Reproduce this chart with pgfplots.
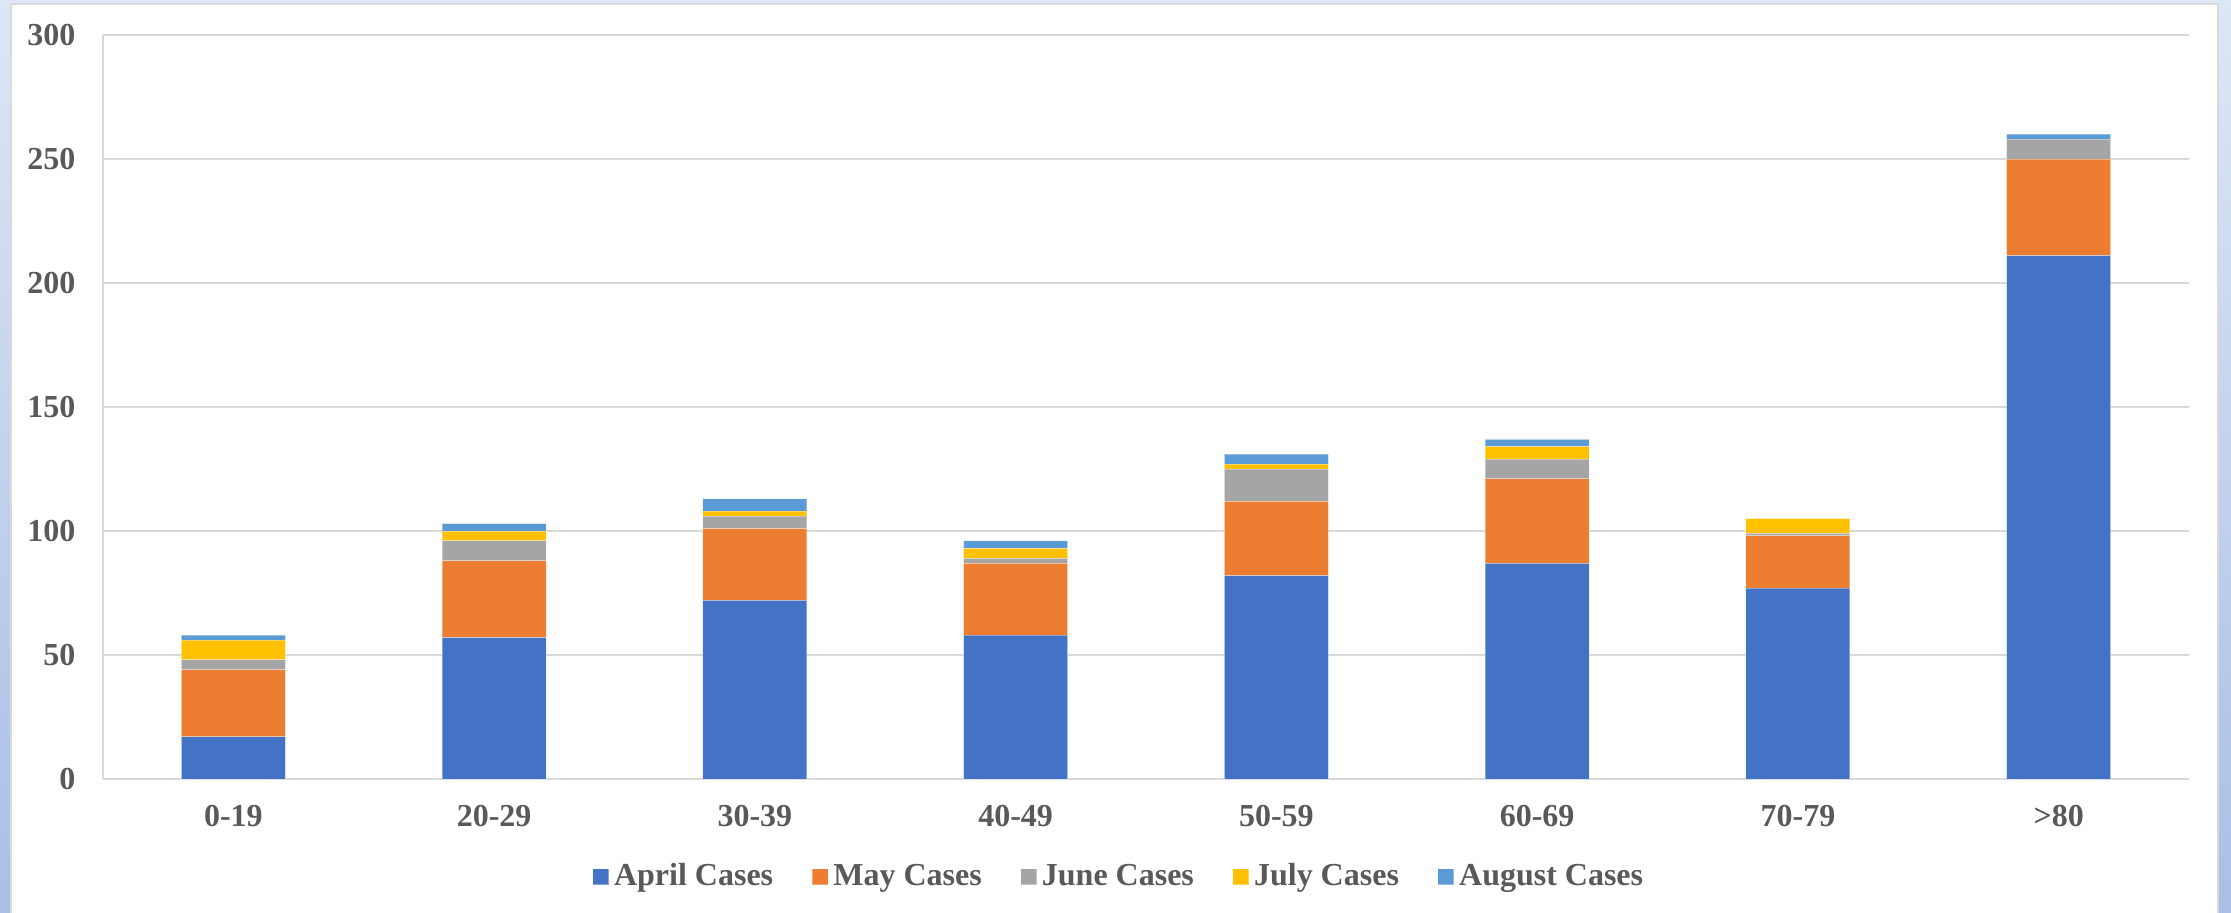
\documentclass[border=0pt]{standalone}
\usepackage{fontspec}
\setmainfont{Liberation Serif}
\usepackage{pgfplots}
\pgfplotsset{compat=1.18}

\definecolor{cApr}{HTML}{4472C4}
\definecolor{cMay}{HTML}{ED7D31}
\definecolor{cJun}{HTML}{A5A5A5}
\definecolor{cJul}{HTML}{FFC000}
\definecolor{cAug}{HTML}{5B9BD5}
\definecolor{txt}{HTML}{595959}
\definecolor{gridc}{HTML}{D9D9D9}
\definecolor{bgtop}{HTML}{DDE6F5}
\definecolor{bgbot}{HTML}{A9BFE5}

\begin{document}
\begin{tikzpicture}
% frame behind the chart
\path[use as bounding box] (-32.19pt,-41.56pt) rectangle (665pt,243.44pt);
\shade[top color=bgtop, bottom color=bgbot]
  (-32.19pt,-41.56pt) rectangle (665pt,243.44pt);
\fill[white, draw=gray!30, line width=0.6pt] (-28.75pt,-45pt) rectangle (660.94pt,242.19pt);

\begin{axis}[
    at={(0,0)}, anchor=south west,
    scale only axis,
    width=651.9pt, height=232.5pt,
    ybar stacked,
    bar width=32.5pt,
    xmin=-0.5, xmax=7.5,
    ymin=0, ymax=300,
    ytick={0,50,...,300},
    xtick=data,
    xticklabels={0-19,20-29,30-39,40-49,50-59,60-69,70-79,>80},
    major tick length=0pt,
    axis x line*=bottom,
    axis y line*=left,
    axis line style={gridc, line width=0.6pt, -},
    ymajorgrids,
    grid style={gridc, line width=0.6pt},
    font=\fontsize{10}{12}\selectfont\bfseries,
    tick label style={txt},
    /pgf/number format/assume math mode=true,
    yticklabel style={xshift=-5.1pt},
    xticklabel style={yshift=-4.8pt},
    legend columns=5,
    legend style={
        at={(0.4876,-0.1316)}, anchor=center,
        draw=none, fill=none,
        text=txt,
        font=\fontsize{10}{12}\selectfont\bfseries,
        /tikz/every even column/.append style={column sep=10.5pt},
        nodes={inner sep=1.5pt},
    },
    legend image code/.code={\fill[#1] (0pt,-2.5pt) rectangle (5pt,2.5pt);},
    every axis plot/.append style={draw=white, draw opacity=0.35, line width=0.3pt},
]
\addplot[fill=cApr] coordinates {(0,17) (1,57) (2,72) (3,58) (4,82) (5,87) (6,77) (7,211)};
\addplot[fill=cMay] coordinates {(0,27) (1,31) (2,29) (3,29) (4,30) (5,34) (6,21) (7,39)};
\addplot[fill=cJun] coordinates {(0,4) (1,8) (2,5) (3,2) (4,13) (5,8) (6,1) (7,8)};
\addplot[fill=cJul] coordinates {(0,8) (1,4) (2,2) (3,4) (4,2) (5,5) (6,6) (7,0)};
\addplot[fill=cAug] coordinates {(0,2) (1,3) (2,5) (3,3) (4,4) (5,3) (6,0) (7,2)};
\legend{April Cases, May Cases, June Cases, July Cases, August Cases}
\end{axis}
\end{tikzpicture}
\end{document}
